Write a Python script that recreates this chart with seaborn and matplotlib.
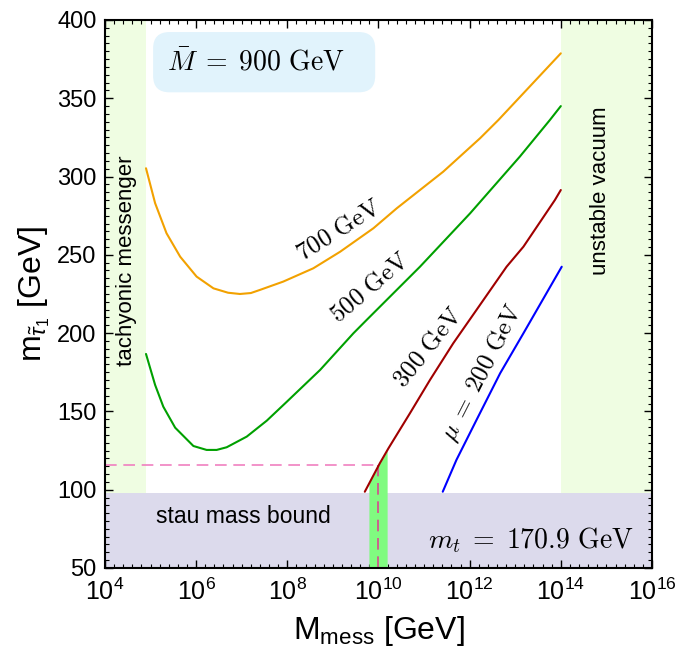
import numpy as np
import pandas as pd
import matplotlib
matplotlib.use("Agg")
import matplotlib.pyplot as plt
import seaborn as sns
from matplotlib.patches import FancyBboxPatch
from matplotlib.ticker import FixedLocator, FixedFormatter, MultipleLocator, NullFormatter

# ---- stau mass curves: log10(M_mess / GeV) vs m_stau1 [GeV] ----
mu700_logM = [4.90, 5.10, 5.35, 5.65, 6.01, 6.38, 6.70, 6.96, 7.20, 7.40, 7.91, 8.57, 9.16,
              9.89, 10.40, 11.42, 12.23, 12.63, 14.00]
mu700_mstau = [305.3, 283.0, 263.8, 248.8, 236.1, 228.6, 225.8, 225.0, 225.6, 227.6, 232.9,
               241.4, 252.0, 267.0, 279.7, 303.1, 324.5, 336.1, 378.7]

mu500_logM = [4.90, 5.10, 5.28, 5.54, 5.94, 6.23, 6.45, 6.67, 7.11, 7.55, 7.99,
              8.72, 9.45, 9.74, 10.91, 12.01, 13.10, 13.76, 14.00]
mu500_mstau = [186.7, 166.9, 153.0, 139.6, 127.9, 125.4, 125.4, 127.1, 133.9, 144.1,
               156.2, 176.5, 199.9, 208.4, 242.4, 276.5, 312.7, 336.1, 345.0]

mu300_logM = [9.70, 10.03, 10.22, 10.69, 11.13, 11.64, 12.15, 12.81, 13.18, 13.87, 14.00]
mu300_mstau = [98.7, 116.9, 126.5, 148.8, 170.1, 193.5, 214.8, 242.4, 255.2, 285.0, 291.4]

mu200_logM = [11.41, 11.71, 12.15, 12.67, 13.18, 14.02]
mu200_mstau = [98.7, 119.0, 144.5, 174.4, 199.9, 242.4]

series_names = ["700", "500", "300", "200"]
series_colors = ["#f2a100", "#00a000", "#a00000", "#0000ff"]

# excluded / special regions
stau_bound = 98.0
tachyon_logM = 4.91
unstable_logM = 14.0
band_logM = [9.79, 10.19]
higgs_line_mstau = 116.0
higgs_line_logM = 10.0

# axes
x_tick_exp = [4, 6, 8, 10, 12, 14, 16]
y_ticks = [50, 100, 150, 200, 250, 300, 350, 400]

sns.set_theme(style="ticks")
plt.rcParams["font.family"] = ["Liberation Sans", "DejaVu Sans"]
plt.rcParams["mathtext.fontset"] = "custom"
plt.rcParams["mathtext.rm"] = "Liberation Sans"
plt.rcParams["mathtext.it"] = "Liberation Sans:italic"
plt.rcParams["mathtext.bf"] = "Liberation Sans:bold"
plt.rcParams["mathtext.sf"] = "Liberation Sans"
for key in ["text.color", "axes.labelcolor", "xtick.color", "ytick.color", "axes.edgecolor"]:
    plt.rcParams[key] = "black"

frames = []
for name, lx, my in zip(series_names,
                        [mu700_logM, mu500_logM, mu300_logM, mu200_logM],
                        [mu700_mstau, mu500_mstau, mu300_mstau, mu200_mstau]):
    frames.append(pd.DataFrame({"M": 10.0 ** np.array(lx), "mstau": my, "mu": name}))
df = pd.concat(frames, ignore_index=True)

fig = plt.figure(figsize=(6.79, 6.53), dpi=100)
ax = fig.add_axes([0.1546, 0.1302, 0.8056, 0.8392])
ax.set_xscale("log")
ax.set_xlim(1e4, 1e16)
ax.set_ylim(50, 400)

# shaded regions
ax.fill_between([1e4, 10 ** tachyon_logM], stau_bound, 400, color="#effde2", lw=0, zorder=0)
ax.fill_between([10 ** unstable_logM, 1e16], stau_bound, 400, color="#effde2", lw=0, zorder=0)
ax.fill_between([1e4, 1e16], 50, stau_bound, color="#dcdaec", lw=0, zorder=0.5)

# band under the 300 GeV curve
bx = np.linspace(band_logM[0], band_logM[1], 30)
by = np.interp(bx, mu300_logM, mu300_mstau)
ax.fill_between(10 ** bx, 50, by, color="#80fb80", lw=0, zorder=1)

sns.lineplot(data=df, x="M", y="mstau", hue="mu", hue_order=series_names,
             palette=dict(zip(series_names, series_colors)), lw=1.5,
             legend=False, ax=ax, zorder=3, estimator=None, sort=False)

ax.plot([1e4, 10 ** higgs_line_logM], [higgs_line_mstau, higgs_line_mstau],
        color="#f080c0", lw=1.2, dashes=(7, 4), zorder=2)
ax.plot([10 ** higgs_line_logM, 10 ** higgs_line_logM], [50, higgs_line_mstau],
        color="#d84890", lw=1.2, dashes=(7, 4), zorder=2)

# ticks
ax.xaxis.set_major_locator(FixedLocator([10.0 ** e for e in x_tick_exp]))
ax.xaxis.set_major_formatter(FixedFormatter([rf"$10^{{{e}}}$" for e in x_tick_exp]))
ax.xaxis.set_minor_locator(FixedLocator(10.0 ** np.arange(4, 16.01, 0.2)))
ax.xaxis.set_minor_formatter(NullFormatter())
ax.yaxis.set_major_locator(FixedLocator(y_ticks))
ax.yaxis.set_minor_locator(MultipleLocator(5))
ax.tick_params(which="both", direction="in", top=True, right=True, color="black")
ax.tick_params(which="major", length=6, width=1.0, labelsize=17, pad=6)
ax.tick_params(which="minor", length=3, width=0.8)
ax.tick_params(axis="x", which="major", pad=8, labelsize=18)
for s in ax.spines.values():
    s.set_color("black")
    s.set_linewidth(1.5)

ax.set_xlabel(r"M$_{\rm mess}$ [GeV]", fontsize=23, labelpad=6)
ax.set_ylabel(r"m$_{\tilde{\tau}_1}$ [GeV]", fontsize=23, labelpad=4)

# region labels
ax.text(10 ** 4.47, 246, "tachyonic messenger", rotation=90, fontsize=16,
        ha="center", va="center", zorder=5)
ax.text(10 ** 14.86, 291, "unstable vacuum", rotation=90, fontsize=16,
        ha="center", va="center", zorder=5)
ax.text(10 ** 7.03, 82.6, "stau mass bound", fontsize=16.5,
        ha="center", va="center", zorder=5)
ax.text(10 ** 15.6, 68, r"$m_t\;=\;170.9\ \mathrm{GeV}$", fontsize=20,
        ha="right", va="center", math_fontfamily="cm", zorder=5)

# parameter box
box = FancyBboxPatch((0.088, 0.868), 0.406, 0.110, transform=ax.transAxes,
                     boxstyle="round,pad=0,rounding_size=0.03",
                     facecolor="#e1f3fc", edgecolor="none", zorder=4)
ax.add_patch(box)
ax.text(0.277, 0.921, r"$\bar{M}\;=\;900\ \mathrm{GeV}$", transform=ax.transAxes,
        fontsize=20, ha="center", va="center", math_fontfamily="cm", zorder=5)

# curve labels
curve_labels = [
    (9.12, 265.9, 32, r"$700\ \mathrm{GeV}$"),
    (9.81, 229.7, 40, r"$500\ \mathrm{GeV}$"),
    (11.09, 191.3, 51, r"$300\ \mathrm{GeV}$"),
    (12.28, 175.0, 63, r"$\mu\;=\;200\ \mathrm{GeV}$"),
]
for lx, ly, rot, txt in curve_labels:
    ax.text(10 ** lx, ly, txt, rotation=rot, rotation_mode="anchor", fontsize=18,
            ha="center", va="center", math_fontfamily="cm", zorder=5)

fig.savefig("out.png", dpi=100)
